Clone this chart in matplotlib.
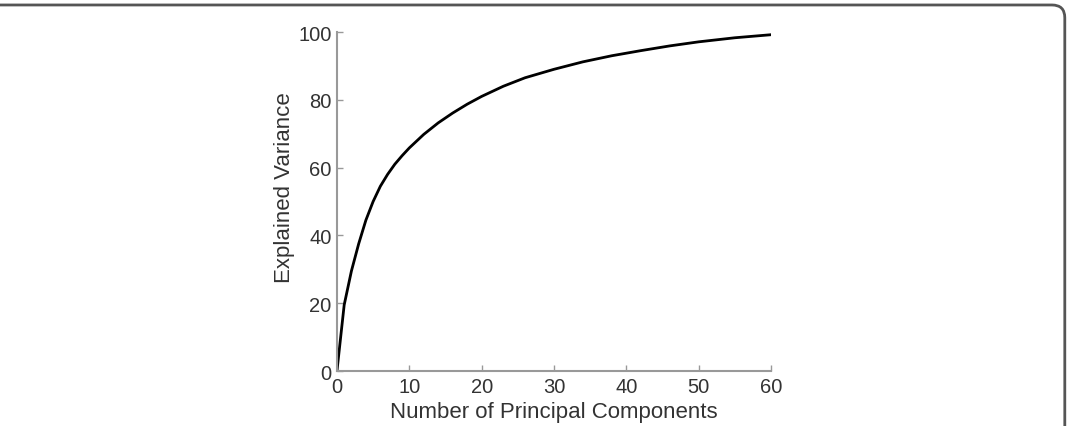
import matplotlib
matplotlib.use("Agg")
import matplotlib.pyplot as plt
from matplotlib.patches import FancyBboxPatch

components = [0, 1, 2, 3, 4, 5, 6, 7, 8, 9, 10, 12, 14, 16, 18, 20, 23, 26, 30, 34, 38, 42, 46, 50, 55, 60]
explained = [0, 19.5, 29.5, 37.5, 44.5, 50, 54.5, 58, 61, 63.5, 65.8, 69.8, 73.2, 76.1, 78.7, 81, 84, 86.5,
             89, 91.2, 93, 94.5, 95.9, 97.1, 98.3, 99.2]
xticks = [0, 10, 20, 30, 40, 50, 60]
yticks = [0, 20, 40, 60, 80, 100]

plt.rcParams["font.family"] = ["Liberation Sans", "DejaVu Sans"]

fig = plt.figure(figsize=(10.68, 4.27), dpi=100)
ax = fig.add_axes([0.3155, 0.1288, 0.4064, 0.7939])

ax.plot(components, explained, color="black", lw=2)

ax.set_xlim(0, 60)
ax.set_ylim(0, 100)
ax.set_xticks(xticks)
ax.set_yticks(yticks)
for s in ["top", "right"]:
    ax.spines[s].set_visible(False)
for s in ["left", "bottom"]:
    ax.spines[s].set_color("#999999")
    ax.spines[s].set_linewidth(1.5)
ax.tick_params(direction="in", length=4, width=1, color="#999999",
               labelsize=14.5, labelcolor="#333333", pad=4)
ax.set_xlabel("Number of Principal Components", fontsize=16, color="#333333", labelpad=4)
ax.set_ylabel("Explained Variance", fontsize=16, color="#333333", labelpad=2)
ax.yaxis.label.set_y(0.545)

frame = FancyBboxPatch((-0.05, -0.1), 1.047, 1.086, boxstyle="round,pad=0,rounding_size=0.012",
                       transform=fig.transFigure, fill=False, edgecolor="#555555", lw=2,
                       mutation_aspect=2.5)
fig.patches.append(frame)

fig.savefig("out.png", dpi=100)
